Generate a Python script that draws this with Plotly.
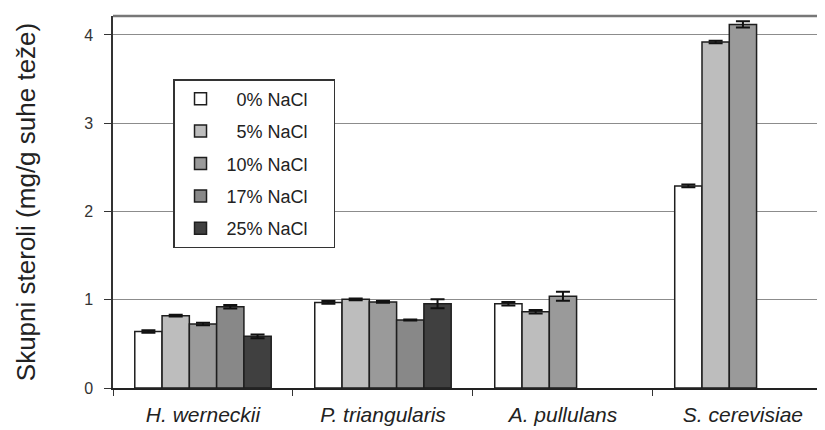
import plotly.graph_objects as go

categories = ["H. werneckii", "P. triangularis", "A. pullulans", "S. cerevisiae"]
series_names = ["\u00a0\u00a00% NaCl", "\u00a0\u00a05% NaCl", "10% NaCl", "17% NaCl", "25% NaCl"]

nacl_0 = [0.64, 0.97, 0.955, 2.29]
nacl_5 = [0.82, 1.005, 0.865, 3.92]
nacl_10 = [0.725, 0.975, 1.04, 4.12]
nacl_17 = [0.92, 0.77, None, None]
nacl_25 = [0.585, 0.955, None, None]

err_0 = [0.015, 0.015, 0.02, 0.015]
err_5 = [0.01, 0.01, 0.02, 0.015]
err_10 = [0.015, 0.01, 0.05, 0.035]
err_17 = [0.02, 0.005, None, None]
err_25 = [0.02, 0.05, None, None]

values = [nacl_0, nacl_5, nacl_10, nacl_17, nacl_25]
errors = [err_0, err_5, err_10, err_17, err_25]
colors = ["#ffffff", "#bdbdbd", "#9a9a9a", "#888888", "#404040"]

fig = go.Figure()
for i, (name, vals, errs, col) in enumerate(zip(series_names, values, errors, colors)):
    fig.add_trace(go.Bar(
        x=categories, y=vals, name=name + "\u00a0" * 4,
        marker=dict(color=col, line=dict(color="#1e1e1e", width=1.5)),
        error_y=dict(type="data", array=errs, visible=True, color="#111111",
                     thickness=2, width=7),
        legendgroup=str(i),
    ))

# page body adds an 8px offset; the figure is sized to fill the rest of the window
fig.update_layout(
    width=817, height=422,
    margin=dict(l=105, r=0, t=8, b=42, autoexpand=False),
    paper_bgcolor="white", plot_bgcolor="white",
    barmode="group", bargap=0.242, bargroupgap=0,
    font=dict(family="Liberation Sans, Arial, sans-serif", color="#222222"),
    legend=dict(
        x=0.0843, y=0.8306, xanchor="left", yanchor="top",
        bgcolor="white", bordercolor="#333333", borderwidth=1.5,
        font=dict(size=18, color="#222222"),
        traceorder="grouped", tracegroupgap=6, itemwidth=42,
    ),
    showlegend=True,
    xaxis=dict(
        range=[-0.5, 3.456], showline=True, linecolor="#222222", linewidth=2,
        ticks="outside", tickson="boundaries", ticklen=6, tickcolor="#333333",
        tickfont=dict(size=21, style="italic", color="#222222"),
        ticklabelstandoff=7, showgrid=False, automargin=False,
    ),
    yaxis=dict(
        range=[0, 4.215], dtick=1, showline=True, linecolor="#333333", linewidth=1.5,
        ticks="outside", ticklen=7, tickcolor="#333333",
        tickfont=dict(size=16, color="#333333"), ticklabelstandoff=8,
        showgrid=True, gridcolor="#8c8c8c", gridwidth=1, zeroline=False,
        automargin=False,
        title=dict(text="Skupni steroli (mg/g suhe teže)", font=dict(size=26, color="#222222"),
                   standoff=41),
    ),
    shapes=[dict(type="line", xref="paper", yref="paper", x0=0, x1=1, y0=1, y1=1,
                 line=dict(color="#777777", width=2.5))],
)

fig.write_html("out.html")
